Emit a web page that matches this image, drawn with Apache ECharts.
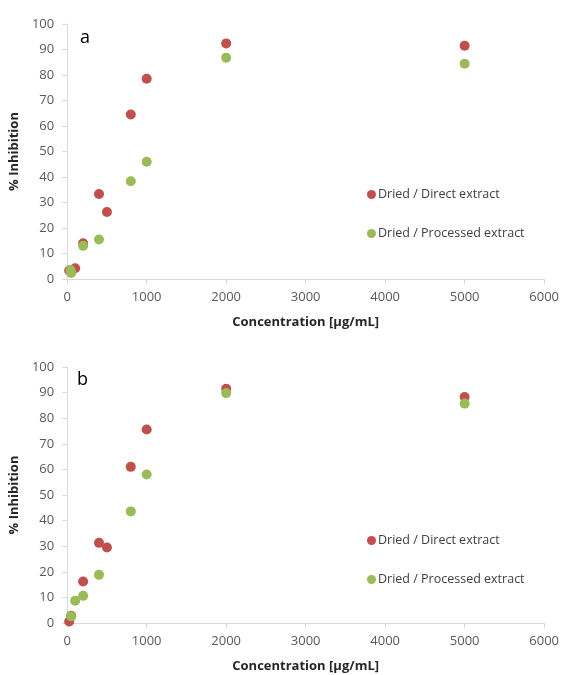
<!DOCTYPE html>
<html>
<head>
<meta charset="utf-8">
<script src="https://cdn.jsdelivr.net/npm/echarts@6/dist/echarts.min.js"></script>
<style>
  html, body { margin: 0; padding: 0; background: #fff; }
  #chart { width: 562px; height: 675px; }
</style>
</head>
<body>
<div id="chart"></div>
<script>
// panel a
var concA_direct = [25, 100, 200, 400, 500, 800, 1000, 2000, 5000];
var inhA_direct = [3.3, 4.2, 14, 33.3, 26.3, 64.5, 78.5, 92.4, 91.5];
var concA_proc = [40, 50, 200, 400, 800, 1000, 2000, 5000];
var inhA_proc = [3.5, 2.4, 13, 15.5, 38.3, 46, 86.8, 84.4];

// panel b
var concB_direct = [25, 50, 200, 400, 500, 800, 1000, 2000, 5000];
var inhB_direct = [0.6, 2.8, 16.2, 31.3, 29.5, 61, 75.6, 91.5, 88.3];
var concB_proc = [50, 100, 200, 400, 800, 1000, 2000, 5000];
var inhB_proc = [2.6, 8.7, 10.6, 18.8, 43.6, 58, 89.8, 85.7];

var seriesNames = ['Dried / Direct extract', 'Dried / Processed extract'];
var panelLabels = ['a', 'b'];

function pairs(xs, ys) {
  var out = [];
  for (let i = 0; i < xs.length; i++) out.push([xs[i], ys[i]]);
  return out;
}

var chart = echarts.init(document.getElementById('chart'));

var tickFont = { color: '#595959', fontSize: 13, fontFamily: 'Open Sans' };
var axisLine = { show: true, lineStyle: { color: '#d9d9d9', width: 1 } };

function xAx(idx) {
  return {
    type: 'value', gridIndex: idx, min: 0, max: 6000, interval: 1000,
    name: 'Concentration [µg/mL]', nameLocation: 'middle', nameGap: 37,
    nameTextStyle: { color: '#262626', fontSize: 13, fontWeight: 'bold', fontFamily: 'Open Sans' },
    axisLine: axisLine,
    axisTick: { show: true, length: 5, lineStyle: { color: '#d9d9d9' } },
    axisLabel: Object.assign({ margin: 12, formatter: function (v) { return String(v); } }, tickFont),
    splitLine: { show: false }
  };
}
function yAx(idx) {
  return {
    type: 'value', gridIndex: idx, min: 0, max: 100, interval: 10,
    name: '% Inhibition', nameLocation: 'middle', nameGap: 38,
    nameTextStyle: { color: '#262626', fontSize: 13, fontWeight: 'bold', fontFamily: 'Open Sans' },
    axisLine: axisLine,
    axisTick: { show: true, length: 5, lineStyle: { color: '#d9d9d9' } },
    axisLabel: Object.assign({ margin: 13 }, tickFont),
    splitLine: { show: false }
  };
}

var colors = ['#c0504d', '#9bbb59'];

function legendAt(top) {
  return {
    data: seriesNames, orient: 'vertical', left: 362, top: top, itemGap: 26,
    icon: 'circle', itemWidth: 9, itemHeight: 9,
    textStyle: { color: '#404040', fontSize: 12.5, fontFamily: 'Open Sans', padding: [0, 0, 0, -3] }
  };
}

option = {
  animation: false,
  color: colors,
  title: [
    { text: panelLabels[0], left: 75, top: 24, textStyle: { fontSize: 18, fontWeight: 'normal', color: '#000', fontFamily: 'Open Sans' } },
    { text: panelLabels[1], left: 72, top: 366, textStyle: { fontSize: 18, fontWeight: 'normal', color: '#000', fontFamily: 'Open Sans' } }
  ],
  grid: [
    { left: 67, right: 16, top: 24, height: 255 },
    { left: 67, right: 16, top: 367, height: 256 }
  ],
  legend: [legendAt(183), legendAt(529)],
  xAxis: [xAx(0), xAx(1)],
  yAxis: [yAx(0), yAx(1)],
  series: [
    { name: seriesNames[0], type: 'scatter', xAxisIndex: 0, yAxisIndex: 0, symbolSize: 10, itemStyle: { opacity: 1 }, data: pairs(concA_direct, inhA_direct) },
    { name: seriesNames[1], type: 'scatter', xAxisIndex: 0, yAxisIndex: 0, symbolSize: 10, itemStyle: { opacity: 1 }, data: pairs(concA_proc, inhA_proc) },
    { name: seriesNames[0], type: 'scatter', xAxisIndex: 1, yAxisIndex: 1, symbolSize: 10, itemStyle: { opacity: 1 }, data: pairs(concB_direct, inhB_direct) },
    { name: seriesNames[1], type: 'scatter', xAxisIndex: 1, yAxisIndex: 1, symbolSize: 10, itemStyle: { opacity: 1 }, data: pairs(concB_proc, inhB_proc) }
  ]
};

chart.setOption(option);
</script>
</body>
</html>
